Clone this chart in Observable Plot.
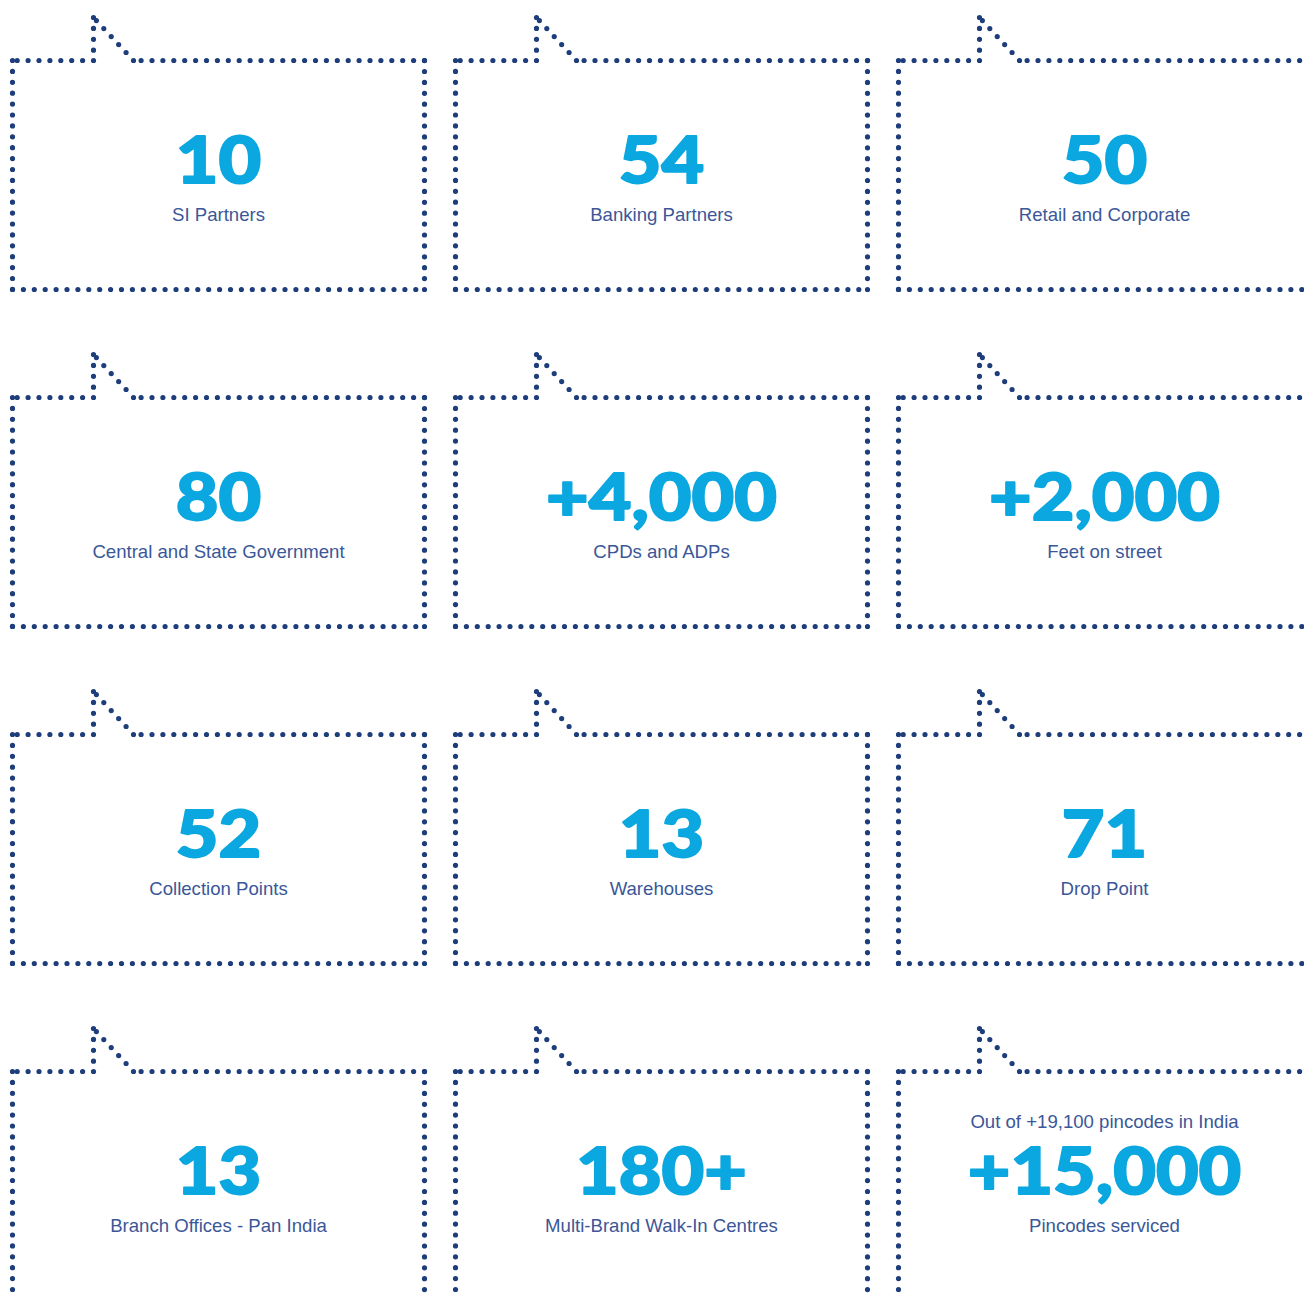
<!DOCTYPE html>
<html>
<head>
<meta charset="utf-8">
<script src="https://cdn.jsdelivr.net/npm/d3@7"></script>
<script src="https://cdn.jsdelivr.net/npm/@observablehq/plot@0.6"></script>
<style>
  html, body { margin: 0; padding: 0; background: #ffffff; }
  #chart { width: 1304px; height: 1295px; overflow: hidden; }
  #chart svg { display: block; }
</style>
</head>
<body>
<div id="chart"></div>
<script>
// ---- data ----
const values = ["10", "54", "50", "80", "+4,000", "+2,000", "52", "13", "71", "13", "180+", "+15,000"];
const labels = ["SI Partners", "Banking Partners", "Retail and Corporate", "Central and State Government",
  "CPDs and ADPs", "Feet on street", "Collection Points", "Warehouses", "Drop Point",
  "Branch Offices - Pan India", "Multi-Brand Walk-In Centres", "Pincodes serviced"];
const notes = ["", "", "", "", "", "", "", "", "", "", "", "Out of +19,100 pincodes in India"];

// ---- layout ----
const W = 1304, H = 1295;
const cols = 3;
const originX = 12, originY = 60, colStep = 443, rowStep = 337;
const boxW = 412, boxH = 229, tabOff = 81, tabW = 40, tabH = 43;

const cells = values.map((v, i) => {
  const c = i % cols, r = Math.floor(i / cols);
  const x0 = originX + c * colStep, y0 = originY + r * rowStep;
  return {i, value: v, label: labels[i], note: notes[i], x0, y0, x1: x0 + boxW, y1: y0 + boxH, cx: x0 + boxW / 2};
});

// outline segments (each edge separate so every corner gets a dot)
const segs = [];
for (const d of cells) {
  const pts = [
    [d.x0 + tabOff, d.y0], [d.x0, d.y0],
    [d.x0, d.y1], [d.x1, d.y1], [d.x1, d.y0],
    [d.x0 + tabOff + tabW, d.y0], [d.x0 + tabOff, d.y0 - tabH], [d.x0 + tabOff, d.y0]
  ];
  for (let k = 0; k < pts.length - 1; k++) {
    segs.push({z: `${d.i}-${k}`, x: pts[k][0], y: pts[k][1]});
    segs.push({z: `${d.i}-${k}`, x: pts[k + 1][0], y: pts[k + 1][1]});
  }
}

const dotColor = "#1d3d7b";
const numColor = "#0aa7e0";
const labelColor = "#3b5798";
const numSize = 64;

const chart = Plot.plot({
  width: W, height: H, margin: 0,
  x: {domain: [0, W], range: [0, W], axis: null},
  y: {domain: [0, H], range: [0, H], axis: null},
  style: {background: "#ffffff", overflow: "hidden"},
  marks: [
    Plot.line(segs, {x: "x", y: "y", z: "z", stroke: dotColor, strokeWidth: 5.2,
      strokeDasharray: "0,10.9", strokeLinecap: "round", strokeLinejoin: "round"}),
    Plot.text(cells, {x: "cx", y: d => d.y0 + 122, text: "value", fill: numColor,
      stroke: numColor, strokeWidth: 1.8,
      fontSize: numSize, fontWeight: 900, fontFamily: "Lato, 'Liberation Sans', Arial, sans-serif",
      textAnchor: "middle", lineAnchor: "bottom"}),
    Plot.text(cells, {x: "cx", y: d => d.y0 + 160, text: "label", fill: labelColor,
      fontSize: 18.6, fontFamily: "'Liberation Sans', Arial, sans-serif",
      textAnchor: "middle", lineAnchor: "bottom"}),
    Plot.text(cells.filter(d => d.note), {x: "cx", y: d => d.y0 + 56, text: "note", fill: labelColor,
      fontSize: 18.6, fontFamily: "'Liberation Sans', Arial, sans-serif",
      textAnchor: "middle", lineAnchor: "bottom"})
  ]
});
document.getElementById("chart").appendChild(chart);

// widen the heavy numerals to match the extended display face
chart.querySelectorAll("text").forEach(t => {
  const fw = t.closest("g") ? t.closest("g").getAttribute("font-weight") : null;
  if (String(fw) !== "900") return;
  const w = t.getComputedTextLength();
  if (w > 0) {
    t.setAttribute("textLength", (w * 1.15).toFixed(1));
    t.setAttribute("lengthAdjust", "spacingAndGlyphs");
  }
});
</script>
</body>
</html>
